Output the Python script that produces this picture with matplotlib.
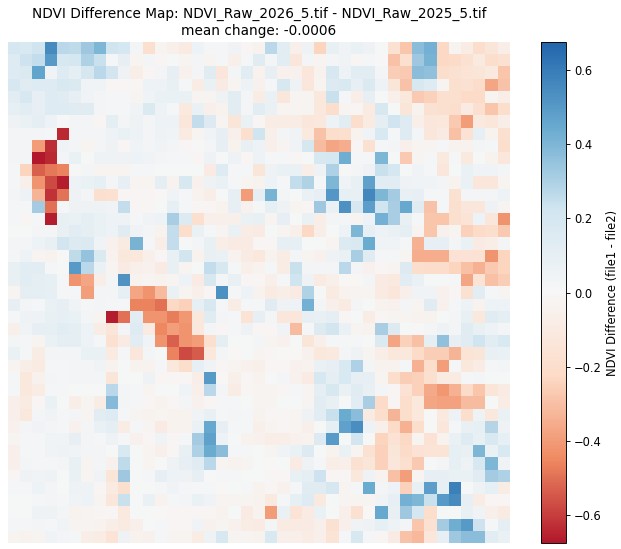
import numpy as np
import matplotlib
matplotlib.use("Agg")
import matplotlib.pyplot as plt
from matplotlib.colors import LinearSegmentedColormap

# NDVI change per block, in hundredths
diff_rows = [
    [20, 17, 22, 55, 27, 26, 33, 40, 22, 20, 3, -18, -3, -6, -10, 6, 2, 2, 4, -2, -4, 27, 12, -6, 5, -24, 8, 4, 7, 5, 1, -17, -28, 37, 42, -23, -3, -8, -20, -14, -7],
    [14, 23, 25, 50, 18, 20, 30, 24, 2, 9, -3, 3, -2, 1, -3, 3, -3, 2, -6, 2, 13, 3, 12, -13, 3, -3, 3, 4, -2, 2, 0, -29, -18, 33, 41, -23, -22, -17, -11, -20, -17],
    [14, 16, 46, 4, 14, 11, 19, 27, 21, 5, -7, -2, 3, 9, -5, 3, 13, -13, 3, 12, -4, 9, -5, -5, -13, -4, 18, 6, 12, 12, 3, -26, -27, 37, 36, -19, -17, -15, -14, -11, -28],
    [18, 13, 14, 14, 17, 16, 4, 4, -2, -2, -2, 6, 6, 8, 2, -8, 7, -9, -3, 6, -5, 2, 18, 5, -13, -3, 15, 17, 9, 16, 6, -14, -29, 18, 14, -3, -18, -17, -21, -37, -29],
    [12, 18, 9, 14, 13, 9, 4, 3, 2, 2, -3, 4, 7, 7, 7, -3, -3, 5, 12, 3, -8, 7, -13, -3, -3, -12, 24, 2, -7, 9, 1, -6, -12, -27, -25, -18, -18, -22, -22, -3, -7],
    [10, 12, 9, 14, 14, 13, 13, 3, 2, 2, 4, 16, 6, 2, -11, 7, -6, -4, 12, 3, 12, 7, -3, -3, -3, -12, -19, -3, -2, -10, 18, 1, -14, -4, -17, -18, -19, -9, -18, -28, -20],
    [5, 7, 11, 6, 0, 3, 3, -2, 11, 3, 5, 3, 6, 6, -13, 25, 15, -3, -14, 7, -2, -8, -8, -8, -13, -12, 6, 12, -20, -10, 11, 22, 14, -6, -13, -12, -27, -40, -11, -13, -7],
    [3, 3, 3, 2, -64, 3, 3, 3, 6, 7, 6, 3, 5, 4, -10, -3, 4, 9, -6, -18, 22, -6, 3, 4, -11, -29, -19, -18, -4, 4, 17, 2, 14, 3, -13, -9, -30, -16, 10, -4, -18],
    [3, 3, -40, -63, 4, 3, -3, 3, 5, -2, 4, 3, 4, 3, -2, 0, 3, 9, -4, 8, 6, -6, -3, 4, 19, -31, -37, -35, -2, -17, 2, 3, -6, -3, -3, 2, -4, -4, 3, 2, -19],
    [3, 3, -67, -64, 3, 7, 1, 5, 5, 5, 6, 4, 3, 2, 2, -2, 5, 1, 5, -2, 6, 2, 2, -2, 1, 18, 20, 43, 2, 2, 40, 1, -27, -3, 2, -11, 2, -11, 1, -4, -13],
    [2, -24, -53, -48, -46, 0, 3, -3, -3, -3, 2, 2, 1, 1, 1, 1, -9, 14, 2, 2, -14, 5, 7, 7, -7, 5, 30, 0, 3, 5, 24, 20, 1, 4, 2, -13, 1, 7, 4, 4, 3],
    [2, -6, -42, -57, -66, 6, 7, 10, 3, 9, -3, -3, 11, -4, 18, -5, 5, 7, 2, -3, -4, 6, 2, 25, 29, 2, 40, 4, 8, 47, 12, 12, 5, 4, 4, 3, -4, 7, -13, -13, -3],
    [3, 6, -33, -62, -49, 5, 3, -18, -17, -2, -2, -2, -1, 4, 2, -4, -7, 1, 9, -40, 11, 41, 3, 1, 7, 9, 51, 10, 8, 56, 40, 32, 8, 9, 2, 2, -17, 3, 3, 3, 6],
    [2, 2, 32, -50, 2, 5, 5, 5, 4, 25, -2, -2, 1, 10, 2, -2, -2, -4, 9, -5, 2, 10, 5, -3, -2, 33, 7, 53, 18, 48, 22, 31, 45, 13, -29, 2, -18, -13, -13, 5, -3],
    [2, -2, 2, -66, 8, 7, 11, 7, 6, 5, 2, 4, 6, 31, 15, -18, -6, -6, -6, 7, 8, -3, 9, 1, 7, -7, 3, 3, -3, 6, 42, 31, 8, 2, -28, -28, -18, -15, 6, -13, -42],
    [1, 1, 3, 3, 8, 12, 11, 7, 6, 13, 4, 3, -4, 25, -19, 7, 2, -3, 7, -8, -9, 1, -3, -6, -23, -7, 1, 6, 40, 9, 6, 7, 11, -3, -28, -5, -3, -25, -22, -20, -27],
    [3, 3, 6, 8, 21, 15, 16, 4, -5, -10, 41, 2, -7, 25, 1, 3, 8, -7, -9, -9, -2, -2, 10, 10, 1, 1, -3, 15, 17, 44, 4, 4, 2, -34, 9, 9, 3, 7, -9, -7, 3],
    [2, 6, -3, -4, 0, 26, 35, 16, -4, -12, -12, -6, -2, 8, 21, -4, 8, 7, -4, -9, -12, -4, -8, 3, -3, -5, 5, 7, 31, 13, 2, 2, -3, -35, -35, -35, -16, -16, -16, -42, -24],
    [8, 12, 12, 2, 1, 50, 27, 7, -3, -9, -6, -5, -9, 8, -3, 1, 25, 18, 2, -6, -4, 2, -8, 24, 3, 3, 3, 27, 3, -5, -2, -3, 15, -19, -21, -21, -24, -30, -34, -27, -24],
    [8, 12, 11, 10, 2, -42, -37, -7, 3, 52, -4, -3, -4, -3, 6, -9, 18, 3, 8, -2, -2, -6, 2, 22, 5, -9, -6, -1, -1, 3, -9, -11, 12, 7, 1, 1, 2, -37, -15, -30, -26],
    [-3, 11, 11, 10, 2, 2, -39, 3, 3, 10, -37, -42, -31, 7, -3, -6, -2, 53, 2, 6, -4, -10, -7, -9, 29, 1, -10, -4, -3, -3, -10, -13, -6, 4, 4, -5, -2, -17, 12, 2, -3],
    [9, 3, 2, 7, 9, 4, 2, 3, 2, 2, -46, -46, -50, -23, -25, 10, 18, 2, -8, 2, 2, 13, 5, 6, 42, 3, -6, -10, 3, 1, -4, -5, 3, -3, 13, -5, 2, 6, -4, 6, 6],
    [2, 5, 6, 8, 10, 7, 3, -3, -66, -50, 12, -42, -42, -47, -41, -12, 13, 3, 2, -15, 9, 3, -13, -13, 9, 8, 11, -2, 1, -8, -2, -3, -3, -4, -4, 1, 3, 8, -12, 13, 11],
    [-6, 4, 9, 10, 12, 11, 6, -8, -14, 3, 14, -10, -45, -39, -42, -12, 3, -2, 2, 5, -2, -2, 4, -31, 2, 15, 21, 7, -3, -4, 31, 15, 1, 0, 3, 5, 3, 13, 8, 6, 3],
    [3, 2, -3, 7, 11, 11, 6, 2, -17, -9, 12, 4, -42, -53, -42, -40, -18, 11, 1, 1, 3, -3, -5, 1, -14, -6, 2, 2, 2, 1, 16, -37, -25, -30, 11, 36, 9, 13, 22, 12, 17],
    [7, 2, -8, 3, 3, 3, 7, 7, -10, 2, -13, 3, 1, -46, -57, -54, -12, 3, -1, 1, -3, -2, -1, -1, -5, -12, -11, 3, 5, -3, -7, -12, -12, -22, -26, -26, -33, -15, -14, 8, 7],
    [-3, -7, -10, 2, 2, 3, 3, 4, -4, 1, -4, -4, 2, -12, -20, 10, 4, -2, -3, -5, -6, -2, -2, -5, -4, 7, 9, 17, 30, 3, -4, -4, 2, -34, -19, -39, 2, -12, -8, 2, 3],
    [2, -12, -5, 3, 2, 3, 3, 3, -14, 1, 1, 5, -2, -2, -2, -7, 50, -1, -6, -2, -4, 0, 3, -5, -9, 18, 11, 17, 9, 9, -3, -19, -26, -25, -18, -10, -10, 2, 3, 1, 1],
    [2, -12, -8, 2, 2, 1, 1, 1, 27, 3, 2, -3, 1, 1, 4, -6, 27, 3, -8, -2, -3, -3, -2, 2, -3, 11, 18, 7, 13, 8, 3, -2, -16, -25, -36, -41, -34, -22, -28, -14, -9],
    [-6, -10, -2, 7, 1, -7, -3, -8, 38, 3, 2, -2, -4, -2, 3, -5, -2, 2, 2, 1, -3, -3, 1, 1, -3, 12, 8, 1, 12, 31, -22, -2, -19, -12, -37, -38, -38, -31, -31, 1, -8],
    [-6, -12, 3, 4, 2, 3, -3, 12, 14, 2, -3, -4, -3, -4, -4, 4, 8, 2, 3, 2, -4, -2, -2, -3, 5, 12, 24, 44, 37, -10, -20, -33, -19, -12, 0, -11, 6, -19, 5, -12, 7],
    [-5, 3, 4, 3, 2, -5, 3, 7, 11, -8, 2, -3, -9, -4, -4, 7, 45, 9, 2, 2, -6, -3, -2, -3, -6, 1, 10, 47, 54, 6, -6, -22, -34, -20, 0, -13, 2, 8, 10, 28, 5],
    [-3, 2, 2, 4, 4, 9, 3, 2, 5, 2, -5, -2, 4, -2, 2, 32, 47, 6, 1, -4, -5, -7, -7, -5, -4, 15, 49, 1, 21, 1, -24, -16, -23, -3, -16, -4, 7, 14, 8, 17, 10],
    [-6, 2, 2, 4, 5, 4, 3, 3, 1, 17, 1, -3, -6, -2, 8, 30, 44, 37, 2, 2, 1, -3, 4, 7, 15, 1, -4, 7, -3, -17, -25, -14, -22, -16, -15, -15, 10, 8, 40, 7, 17],
    [-6, 3, 2, 2, 3, 8, -3, 3, -5, 26, 1, -3, 1, 5, 9, 13, 27, -3, -4, -3, 1, -1, 1, -9, 5, 2, -7, -6, -17, -14, -25, -13, -18, -27, 1, 3, 10, 5, 18, 40, 4],
    [-2, 5, 4, 5, 1, 7, -3, 4, -14, 33, 1, 2, 9, 6, 5, 9, 0, 2, 2, 1, 1, -2, -2, 8, 11, 23, -2, -2, -12, 5, -4, -30, -39, -3, 9, 9, 7, 7, 13, 32, 30],
    [2, 2, 6, 3, 1, 6, 5, -2, -10, -18, 1, 1, 2, 4, 2, 2, 2, -1, 1, 2, -4, -2, -5, 2, 13, 13, 19, -3, 2, 44, 3, 6, -25, 8, 48, 10, 58, 1, 5, 10, -8],
    [1, 1, 2, 3, 2, 4, 6, -3, -13, 24, 1, 7, -4, 2, 3, 7, 4, -3, -3, -3, -4, -11, 2, 10, 14, -11, 1, -3, -3, -3, 4, 9, 42, 40, 24, 50, 55, 9, -8, -2, -2],
    [1, 1, 5, 5, 3, -4, -3, -2, -2, -11, 1, 1, -1, -2, -2, -2, -2, -4, 1, -9, -4, -40, 7, -15, -9, 7, 1, -6, -17, -1, 45, 8, 33, 20, -19, 1, 1, 8, 4, -6, -10],
    [2, 2, 3, 2, 4, -3, -3, -4, -7, -10, -6, 1, 2, -2, -2, 4, -5, -3, -5, -8, -9, 3, -10, -10, -9, -6, -17, -6, 4, 5, 10, 6, 3, -28, -17, 32, 43, 50, 23, 2, 11],
    [-3, -4, -3, 4, 3, 2, -7, -8, -15, 5, -4, -5, 2, -3, -3, -8, 5, 18, -3, -3, -4, 17, -6, -6, -8, -6, -15, 2, 18, 2, -2, -9, -29, -32, -13, 9, 33, 37, 37, 12, 7],
]
cmap_colors = ["#b2182b", "#ef8a62", "#fddbc7", "#f7f7f7", "#d1e5f0", "#67a9cf", "#2166ac"]
color_limit = 0.674
cbar_ticks = [-0.6, -0.4, -0.2, 0.0, 0.2, 0.4, 0.6]

file1 = "NDVI_Raw_2026_5.tif"
file2 = "NDVI_Raw_2025_5.tif"
mean_change = -0.0006

diff = np.array(diff_rows) / 100.0
cmap = LinearSegmentedColormap.from_list("ndvi_diff", cmap_colors)

fig = plt.figure(figsize=(6.21, 5.49), dpi=100)
W, H = 621.0, 549.0

ax = fig.add_axes([8 / W, 1 - 543 / H, 502 / W, 501 / H])
im = ax.imshow(diff, cmap=cmap, vmin=-color_limit, vmax=color_limit,
               interpolation="nearest", aspect="auto")
ax.axis("off")
ax.set_title("NDVI Difference Map: %s - %s\nmean change: %.4f" % (file1, file2, mean_change),
             fontsize=9.8, pad=5, linespacing=1.3)

cax = fig.add_axes([541 / W, 1 - 543 / H, 25 / W, 501 / H])
cbar = fig.colorbar(im, cax=cax, ticks=cbar_ticks)
cbar.ax.tick_params(labelsize=8.3, length=2.9, width=0.66, pad=2.9)
cbar.outline.set_linewidth(0.66)
cbar.set_label("NDVI Difference (file1 - file2)", fontsize=8.3, labelpad=3)

fig.savefig("out.png", dpi=100)
